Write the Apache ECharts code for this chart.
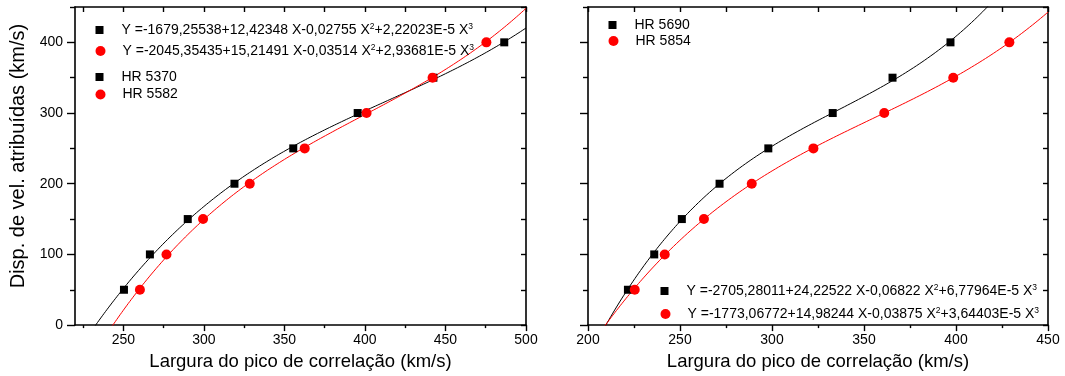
<!DOCTYPE html>
<html>
<head>
<meta charset="utf-8">
<script src="https://cdn.jsdelivr.net/npm/echarts@6/dist/echarts.min.js"></script>
<style>
  html, body { margin: 0; padding: 0; background: #fff; }
  #chart { width: 1065px; height: 376px; }
</style>
</head>
<body>
<div id="chart"></div>
<script>
// Velocity dispersion levels assigned to each star (km/s)
const dispersion = [50, 100, 150, 200, 250, 300, 350, 400];

// Measured correlation-peak widths (km/s), one per dispersion level
const widthHR5370 = [250.4, 266.5, 290, 319, 355.5, 395.5, 442.5, 486.5];
const widthHR5582 = [260.3, 276.8, 299.5, 328.5, 362.6, 401, 442, 475.4];
const widthHR5690 = [221.7, 236, 251, 271.5, 298, 333, 365.5, 397];
const widthHR5854 = [225.4, 241.7, 263, 289, 322.5, 361, 398.5, 429];

// Cubic fit coefficients [a0, a1, a2, a3]:  Y = a0 + a1 X + a2 X^2 + a3 X^3
const fitHR5370 = [-1679.25538, 12.42348, -0.02755, 2.22023e-5];
const fitHR5582 = [-2045.35435, 15.21491, -0.03514, 2.93681e-5];
const fitHR5690 = [-2705.28011, 24.22522, -0.06822, 6.77964e-5];
const fitHR5854 = [-1773.06772, 14.98244, -0.03875, 3.64403e-5];

// Fit equation texts as printed in the legends (^n marks a superscript)
const eqHR5370 = 'Y =-1679,25538+12,42348 X-0,02755 X^2+2,22023E-5 X^3';
const eqHR5582 = 'Y =-2045,35435+15,21491 X-0,03514 X^2+2,93681E-5 X^3';
const eqHR5690 = 'Y =-2705,28011+24,22522 X-0,06822 X^2+6,77964E-5 X^3';
const eqHR5854 = 'Y =-1773,06772+14,98244 X-0,03875 X^2+3,64403E-5 X^3';

// Axis ticks
const leftXMajor = [250, 300, 350, 400, 450, 500];
const leftXMinor = [225, 275, 325, 375, 425, 475];
const rightXMajor = [200, 250, 300, 350, 400, 450];
const rightXMinor = [225, 275, 325, 375, 425];
const yMajor = [0, 100, 200, 300, 400];
const yMinor = [50, 150, 250, 350, 450];

const LEFT_X = [220, 500];
const RIGHT_X = [200, 450];
const Y_RANGE = [0, 450];

const FONT = '"Liberation Sans", Arial, sans-serif';
const SQUARE = 'path://M0,0L10,0L10,10L0,10Z';

function pairs(xs, ys) { return xs.map((x, i) => [x, ys[i]]); }

// Sample the cubic fit over the axis span, keeping the part inside the plot
function fitCurve(c, range) {
  const pts = [];
  for (let x = range[0]; x <= range[1] + 1e-9; x += 0.5) {
    const y = c[0] + c[1] * x + c[2] * x * x + c[3] * x * x * x;
    if (y >= -30 && y <= 480) pts.push([x, y]);
  }
  return pts;
}

const supRich = {
  sup: { fontSize: 8.5, fontFamily: FONT, color: '#000', verticalAlign: 'top', padding: [0, 0, 7, 0] }
};
function eqFormatter(name) { return name.replace(/\^(\d)/g, '{sup|$1}'); }

function xAxesFor(gridIndex, range, major, minor) {
  const all = major.concat(minor);
  return [
    {
      gridIndex, type: 'value', position: 'bottom', min: range[0], max: range[1],
      name: 'Largura do pico de correlação (km/s)', nameLocation: 'middle', nameGap: 24,
      nameTextStyle: { fontFamily: FONT, fontSize: 18.5, color: '#000' },
      axisLine: { show: true, onZero: false, lineStyle: { color: '#000', width: 1.6 } },
      axisTick: { show: true, inside: false, length: 6, customValues: major, lineStyle: { color: '#000', width: 1.4 } },
      axisLabel: { show: true, margin: 8, customValues: major, fontFamily: FONT, fontSize: 14, color: '#000' },
      splitLine: { show: false }
    },
    {
      gridIndex, type: 'value', position: 'bottom', min: range[0], max: range[1],
      axisLine: { show: false, onZero: false },
      axisTick: { show: true, inside: false, length: 3, customValues: minor, lineStyle: { color: '#000', width: 1.4 } },
      axisLabel: { show: false }, splitLine: { show: false }
    },
    {
      gridIndex, type: 'value', position: 'top', min: range[0], max: range[1],
      axisLine: { show: true, onZero: false, lineStyle: { color: '#000', width: 1.6 } },
      axisTick: { show: true, inside: true, length: 5, customValues: all, lineStyle: { color: '#000', width: 1.4 } },
      axisLabel: { show: false }, splitLine: { show: false }
    }
  ];
}

function yAxesFor(gridIndex, withLabels) {
  const all = yMajor.concat(yMinor);
  const main = {
    gridIndex, type: 'value', position: 'left', min: Y_RANGE[0], max: Y_RANGE[1],
    axisLine: { show: true, onZero: false, lineStyle: { color: '#000', width: 1.6 } },
    axisTick: { show: true, inside: false, length: 8, customValues: yMajor, lineStyle: { color: '#000', width: 1.4 } },
    axisLabel: { show: withLabels, margin: 12, customValues: yMajor, fontFamily: FONT, fontSize: 14, color: '#000' },
    splitLine: { show: false }
  };
  if (withLabels) {
    main.name = 'Disp. de vel. atribuídas (km/s)';
    main.nameLocation = 'middle';
    main.nameGap = 47;
    main.nameTextStyle = { fontFamily: FONT, fontSize: 20, color: '#000', padding: [0, 0, 0, 20] };
  }
  return [
    main,
    {
      gridIndex, type: 'value', position: 'left', min: Y_RANGE[0], max: Y_RANGE[1],
      axisLine: { show: false, onZero: false },
      axisTick: { show: true, inside: false, length: 5, customValues: yMinor, lineStyle: { color: '#000', width: 1.4 } },
      axisLabel: { show: false }, splitLine: { show: false }
    },
    {
      gridIndex, type: 'value', position: 'right', min: Y_RANGE[0], max: Y_RANGE[1],
      axisLine: { show: true, onZero: false, lineStyle: { color: '#000', width: 1.6 } },
      axisTick: { show: true, inside: true, length: 5, customValues: all, lineStyle: { color: '#000', width: 1.4 } },
      axisLabel: { show: false }, splitLine: { show: false }
    }
  ];
}

function fitSeries(name, coeffs, range, color, xIdx, yIdx) {
  return {
    name, type: 'line', xAxisIndex: xIdx, yAxisIndex: yIdx,
    data: fitCurve(coeffs, range), showSymbol: false, symbol: 'none',
    smooth: false, clip: true, silent: true,
    lineStyle: { color, width: 1 }, itemStyle: { color }, z: 2
  };
}

function pointSeries(name, xs, symbol, size, color, xIdx, yIdx) {
  return {
    name, type: 'scatter', xAxisIndex: xIdx, yAxisIndex: yIdx,
    data: pairs(xs, dispersion), symbol, symbolSize: size,
    itemStyle: { color, opacity: 1 }, z: 3
  };
}

// One legend entry: icon centred near (cx, cy), text following it
function legendItem(name, icon, cx, cy, isEq) {
  return {
    orient: 'vertical', left: cx - 4.5, top: cy - 7,
    itemWidth: 34, itemHeight: icon === 'circle' ? 10 : 8,
    symbolKeepAspect: true,
    data: [{ name, icon }],
    formatter: isEq ? eqFormatter : undefined,
    textStyle: { fontFamily: FONT, fontSize: 14, color: '#000', rich: supRich },
    selectedMode: false, padding: 0
  };
}

const chart = echarts.init(document.getElementById('chart'), null, { renderer: 'canvas' });

const option = {
  backgroundColor: '#fff',
  animation: false,
  grid: [
    { left: 75, top: 7, width: 451, height: 321, containLabel: false },
    { left: 588, top: 7, width: 460, height: 321, containLabel: false }
  ],
  xAxis: xAxesFor(0, LEFT_X, leftXMajor, leftXMinor).concat(xAxesFor(1, RIGHT_X, rightXMajor, rightXMinor)),
  yAxis: yAxesFor(0, true).concat(yAxesFor(1, false)),
  legend: [
    legendItem(eqHR5370, SQUARE, 100, 29, true),
    legendItem(eqHR5582, 'circle', 100, 50, true),
    legendItem('HR 5370', SQUARE, 100, 77, false),
    legendItem('HR 5582', 'circle', 100, 94.5, false),
    legendItem('HR 5690', SQUARE, 613, 25, false),
    legendItem('HR 5854', 'circle', 613, 41, false),
    legendItem(eqHR5690, SQUARE, 665, 290, true),
    legendItem(eqHR5854, 'circle', 665, 313, true)
  ],
  series: [
    fitSeries(eqHR5370, fitHR5370, LEFT_X, '#000', 0, 0),
    fitSeries(eqHR5582, fitHR5582, LEFT_X, '#ff0000', 0, 0),
    pointSeries('HR 5370', widthHR5370, 'rect', 8, '#000', 0, 0),
    pointSeries('HR 5582', widthHR5582, 'circle', 10, '#ff0000', 0, 0),
    fitSeries(eqHR5690, fitHR5690, RIGHT_X, '#000', 3, 3),
    fitSeries(eqHR5854, fitHR5854, RIGHT_X, '#ff0000', 3, 3),
    pointSeries('HR 5690', widthHR5690, 'rect', 8, '#000', 3, 3),
    pointSeries('HR 5854', widthHR5854, 'circle', 10, '#ff0000', 3, 3)
  ]
};

chart.setOption(option);
</script>
</body>
</html>
